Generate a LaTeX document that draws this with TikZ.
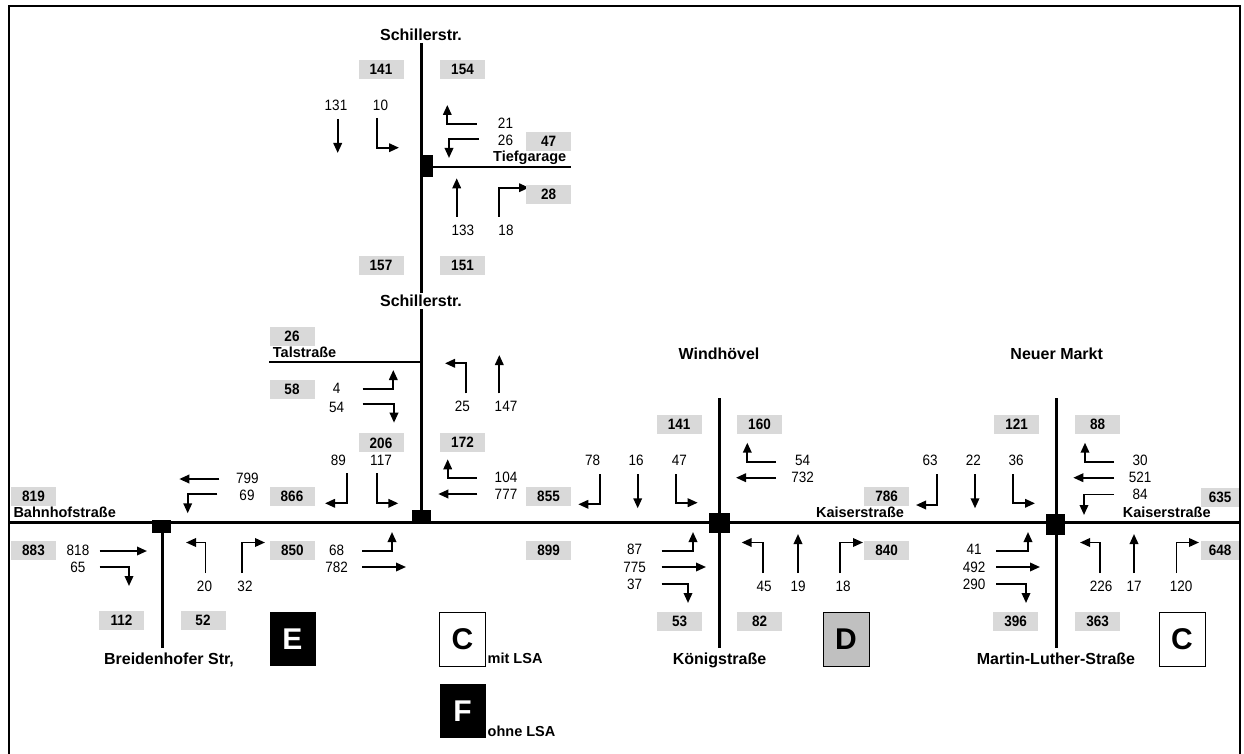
\documentclass[tikz,border=0pt]{standalone}
\usepackage{fontspec}
\setmainfont{Liberation Sans}
\newfontfamily\numfont{Liberation Sans}[FakeStretch=0.9]
\usetikzlibrary{arrows.meta}
\definecolor{boxgray}{RGB}{217,217,217}
\definecolor{dgray}{RGB}{192,192,192}
\tikzset{
  road/.style={line width=3pt},
  sideroad/.style={line width=2.2pt},
  mv/.style={line width=1.9pt,-{Triangle[length=10pt,width=8.5pt]}},
  num/.style={inner sep=0pt,text height=10.7pt,text depth=0pt,font=\numfont\fontsize{15}{17}\selectfont},
  gbox/.style={fill=boxgray,minimum width=45pt,minimum height=19pt,inner sep=0pt,text height=10.7pt,text depth=0pt,font=\numfont\fontsize{15}{17}\selectfont\bfseries},
  sl/.style={inner sep=0pt,text height=10.4pt,text depth=0pt,font=\fontsize{14.5}{16}\selectfont\bfseries},
  sn/.style={inner sep=0pt,text height=11.5pt,text depth=0pt,font=\fontsize{16}{18}\selectfont\bfseries},
  lbox/.style={minimum width=46pt,minimum height=54pt,inner sep=0pt,text height=21.5pt,text depth=0pt,font=\fontsize{30}{32}\selectfont\bfseries},
  junc/.style={fill=black}
}
\begin{document}
\begin{tikzpicture}[x=1pt,y=-1pt]
\useasboundingbox (0,0) rectangle (1244,754);
\begin{scope}
\clip (0,0) rectangle (1244,754);
\draw[line width=2pt] (9,770) -- (9,6) -- (1240,6) -- (1240,770);
\end{scope}
% main roads
\draw[road] (9,522) -- (1240,522);
\draw[road] (421,43) -- (421,522);
\draw[road] (162,522) -- (162,648);
\draw[road] (719.5,398) -- (719.5,648);
\draw[road] (1056,398) -- (1056,648);
\draw[sideroad] (433,167) -- (571,167);
\draw[sideroad] (269,362) -- (421,362);
% junction squares
\fill[junc] (420,155) rectangle (433,177);
\fill[junc] (412.3,510) rectangle (430.7,523.5);
\fill[junc] (152.3,520) rectangle (171,533.3);
\fill[junc] (709.3,512.7) rectangle (730,533.3);
\fill[junc] (1046,514) rectangle (1065,535);

% ===== Schillerstr. / Tiefgarage =====
\node[sn] (schill1) at (421,35) {Schillerstr.};
\node[gbox] (b141a) at (381,69.5) {141};
\node[gbox] (b154) at (462.5,69.5) {154};
\node[num] (n131) at (336,105) {131};
\node[num] (n10) at (380.5,105) {10};
\draw[mv] (337.7,119) -- (337.7,153);
\draw[mv] (377.3,118) -- (377.3,147.7) -- (399,147.7);
\node[num] (n21) at (505.5,123) {21};
\draw[mv] (476.7,124) -- (447.3,124) -- (447.3,105);
\node[num] (n26a) at (505.5,140) {26};
\draw[mv] (478.7,139.3) -- (449,139.3) -- (449,158);
\node[gbox] (b47) at (548.5,141.5) {47};
\node[sl] (tief) at (529.7,156.7) {Tiefgarage};
\draw[mv] (456.7,216.7) -- (456.7,178.3);
\node[num] (n133) at (462.8,230) {133};
\draw[mv] (499.3,216.7) -- (499.3,187.7) -- (529,187.7);
\node[num] (n18a) at (506,230) {18};
\node[gbox] (b28) at (548.5,194.5) {28};
\node[gbox] (b157) at (381,265.5) {157};
\node[gbox] (b151) at (462.5,265.5) {151};
\node[sn,fill=white,inner xsep=1pt,inner ysep=2pt] (schill2) at (421,301) {Schillerstr.};

% ===== Talstrasse / Schillerstr. =====
\node[gbox] (b26) at (292,336) {26};
\node[sl,anchor=west] (tal) at (272.7,352.7) {Talstraße};
\node[gbox] (b58) at (292,389.5) {58};
\node[num] (n4) at (336.7,388.3) {4};
\draw[mv] (362.7,389.3) -- (393.3,389.3) -- (393.3,370);
\node[num] (n54a) at (336.7,406.7) {54};
\draw[mv] (362.7,404.3) -- (394,404.3) -- (394,422.7);
\draw[mv] (465.7,393.3) -- (465.7,363.3) -- (445,363.3);
\node[num] (n25) at (462.3,406) {25};
\draw[mv] (499.3,393.3) -- (499.3,355);
\node[num] (n147) at (506,406) {147};
\node[gbox] (b206) at (381,442.7) {206};
\node[gbox] (b172) at (462.5,442.5) {172};
\node[num] (n89) at (338.3,460) {89};
\node[num] (n117) at (381,460) {117};
\draw[mv] (347.3,473.3) -- (347.3,503.3) -- (325,503.3);
\draw[mv] (376.7,473.3) -- (376.7,503.3) -- (398.3,503.3);
\node[num] (n104) at (506,476.7) {104};
\draw[mv] (476.7,477.7) -- (447.7,477.7) -- (447.7,459.3);
\node[num] (n777) at (506,494) {777};
\draw[mv] (477.3,494) -- (438.3,494);
\node[gbox] (b866) at (292,496) {866};
\node[gbox] (b855) at (548.5,496.2) {855};

% ===== Bahnhofstrasse / Breidenhofer =====
\node[num] (n799) at (247.3,478.3) {799};
\draw[mv] (219.3,479) -- (179.3,479);
\node[num] (n69) at (247,495) {69};
\draw[mv] (217.3,494.3) -- (187.7,494.3) -- (187.7,513.3);
\node[gbox] (b819) at (33.5,496) {819};
\node[sl,anchor=west] (bahn) at (13.3,512.7) {Bahnhofstraße};
\node[gbox] (b883) at (33.5,550) {883};
\node[num] (n818) at (78,550) {818};
\draw[mv] (99.5,551) -- (147,551);
\node[num] (n65) at (78,567) {65};
\draw[mv] (99.5,567) -- (129,567) -- (129,586);
\draw[mv] (205.5,573) -- (205.5,542.5) -- (186,542.5);
\node[num] (n20) at (204.5,586) {20};
\draw[mv] (242,573) -- (242,542.5) -- (265,542.5);
\node[num] (n32) at (245,586) {32};
\node[gbox] (b850) at (292.3,550) {850};
\node[num] (n68) at (336.7,550) {68};
\draw[mv] (362,551) -- (392,551) -- (392,532);
\node[num] (n782) at (336.7,567) {782};
\draw[mv] (362,567) -- (406,567);
\node[gbox] (b899) at (548.7,550) {899};
\node[gbox] (b112) at (121.5,620) {112};
\node[gbox] (b52) at (203,620) {52};
\node[sn] (breid) at (169,659) {Breidenhofer Str,};
\node[lbox,fill=black,text=white] (boxE) at (292.5,639) {E};
\node[lbox,draw=black,line width=0.8pt,fill=white] (boxC1) at (462.5,639) {C};
\node[sl,anchor=west] (mit) at (487.5,658) {mit LSA};
\node[lbox,fill=black,text=white] (boxF) at (462.5,711) {F};
\node[sl,anchor=west] (ohne) at (487.5,731) {ohne LSA};

% ===== Windhoevel / Koenigstrasse =====
\node[sn] (wind) at (719,353.3) {Windhövel};
\node[gbox] (b141b) at (679.2,424.2) {141};
\node[gbox] (b160) at (759.5,424.5) {160};
\node[num] (n78) at (592.7,460) {78};
\node[num] (n16) at (636,460) {16};
\node[num] (n47) at (679.3,460) {47};
\draw[mv] (600,474) -- (600,504.3) -- (578.3,504.3);
\draw[mv] (637.7,474) -- (637.7,508.3);
\draw[mv] (676,474) -- (676,502.7) -- (697.7,502.7);
\node[num] (n54b) at (802.7,460) {54};
\draw[mv] (776,461.7) -- (747.3,461.7) -- (747.3,442.7);
\node[num] (n732) at (802.7,476.7) {732};
\draw[mv] (776,477.7) -- (736,477.7);
\node[gbox] (b786) at (886.5,496.3) {786};
\node[sl] (kais1) at (860,512.3) {Kaiserstraße};
\node[num] (n63) at (930,460) {63};
\draw[mv] (937.3,474) -- (937.3,505) -- (916,505);
\node[num] (n22) at (973.3,460) {22};
\draw[mv] (975,474) -- (975,508.3);
\node[num] (n87) at (634.7,549.5) {87};
\draw[mv] (661.5,551) -- (693,551) -- (693,532);
\node[num] (n775) at (634.7,567) {775};
\draw[mv] (661.5,567) -- (706,567);
\node[num] (n37) at (634.7,584) {37};
\draw[mv] (661.5,584) -- (688,584) -- (688,603);
\node[gbox] (b53) at (679.5,621) {53};
\node[gbox] (b82) at (759.5,621) {82};
\draw[mv] (763.4,573) -- (763.4,542.5) -- (741.6,542.5);
\node[num] (n45) at (764,586) {45};
\draw[mv] (798,573) -- (798,534);
\node[num] (n19) at (798,586) {19};
\draw[mv] (840,573) -- (840,542.5) -- (863,542.5);
\node[num] (n18b) at (843,586) {18};
\node[gbox] (b840) at (886.5,550) {840};
\node[lbox,draw=black,line width=0.8pt,fill=dgray] (boxD) at (846,639) {D};
\node[sn] (koenig) at (719.5,659) {Königstraße};

% ===== Neuer Markt / Martin-Luther-Strasse =====
\node[sn] (neuer) at (1056.7,354) {Neuer Markt};
\node[gbox] (b121) at (1016.7,424.5) {121};
\node[gbox] (b88) at (1097.5,424.5) {88};
\node[num] (n36) at (1016,460) {36};
\draw[mv] (1013.3,474) -- (1013.3,503.3) -- (1035,503.3);
\node[num] (n30) at (1140,460) {30};
\draw[mv] (1114,461.7) -- (1085,461.7) -- (1085,442.7);
\node[num] (n521) at (1140,476.7) {521};
\draw[mv] (1114,477.7) -- (1073.3,477.7);
\node[num] (n84) at (1140,494) {84};
\draw[mv] (1114,494.5) -- (1084,494.5) -- (1084,515);
\node[gbox,minimum width=38pt] (b635) at (1220,497) {635};
\node[sl] (kais2) at (1166.7,512.3) {Kaiserstraße};
\node[num] (n41) at (974,549.5) {41};
\draw[mv] (996.4,551) -- (1028,551) -- (1028,532);
\node[num] (n492) at (974,567) {492};
\draw[mv] (996.4,567) -- (1040,567);
\node[num] (n290) at (974,584) {290};
\draw[mv] (996.4,584) -- (1026,584) -- (1026,603);
\node[gbox] (b396) at (1015.5,621) {396};
\node[gbox] (b363) at (1097.7,621) {363};
\draw[mv] (1100.4,573) -- (1100.4,542.5) -- (1080,542.5);
\node[num] (n226) at (1101,586) {226};
\draw[mv] (1134,573) -- (1134,534);
\node[num] (n17) at (1134,586) {17};
\draw[mv] (1176.5,573) -- (1176.5,542.5) -- (1199,542.5);
\node[num] (n120) at (1181,586) {120};
\node[gbox,minimum width=38pt] (b648) at (1220,550) {648};
\node[lbox,draw=black,line width=0.8pt,fill=white] (boxC2) at (1182,639) {C};
\node[sn] (martin) at (1056,659) {Martin-Luther-Straße};
\end{tikzpicture}
\end{document}
